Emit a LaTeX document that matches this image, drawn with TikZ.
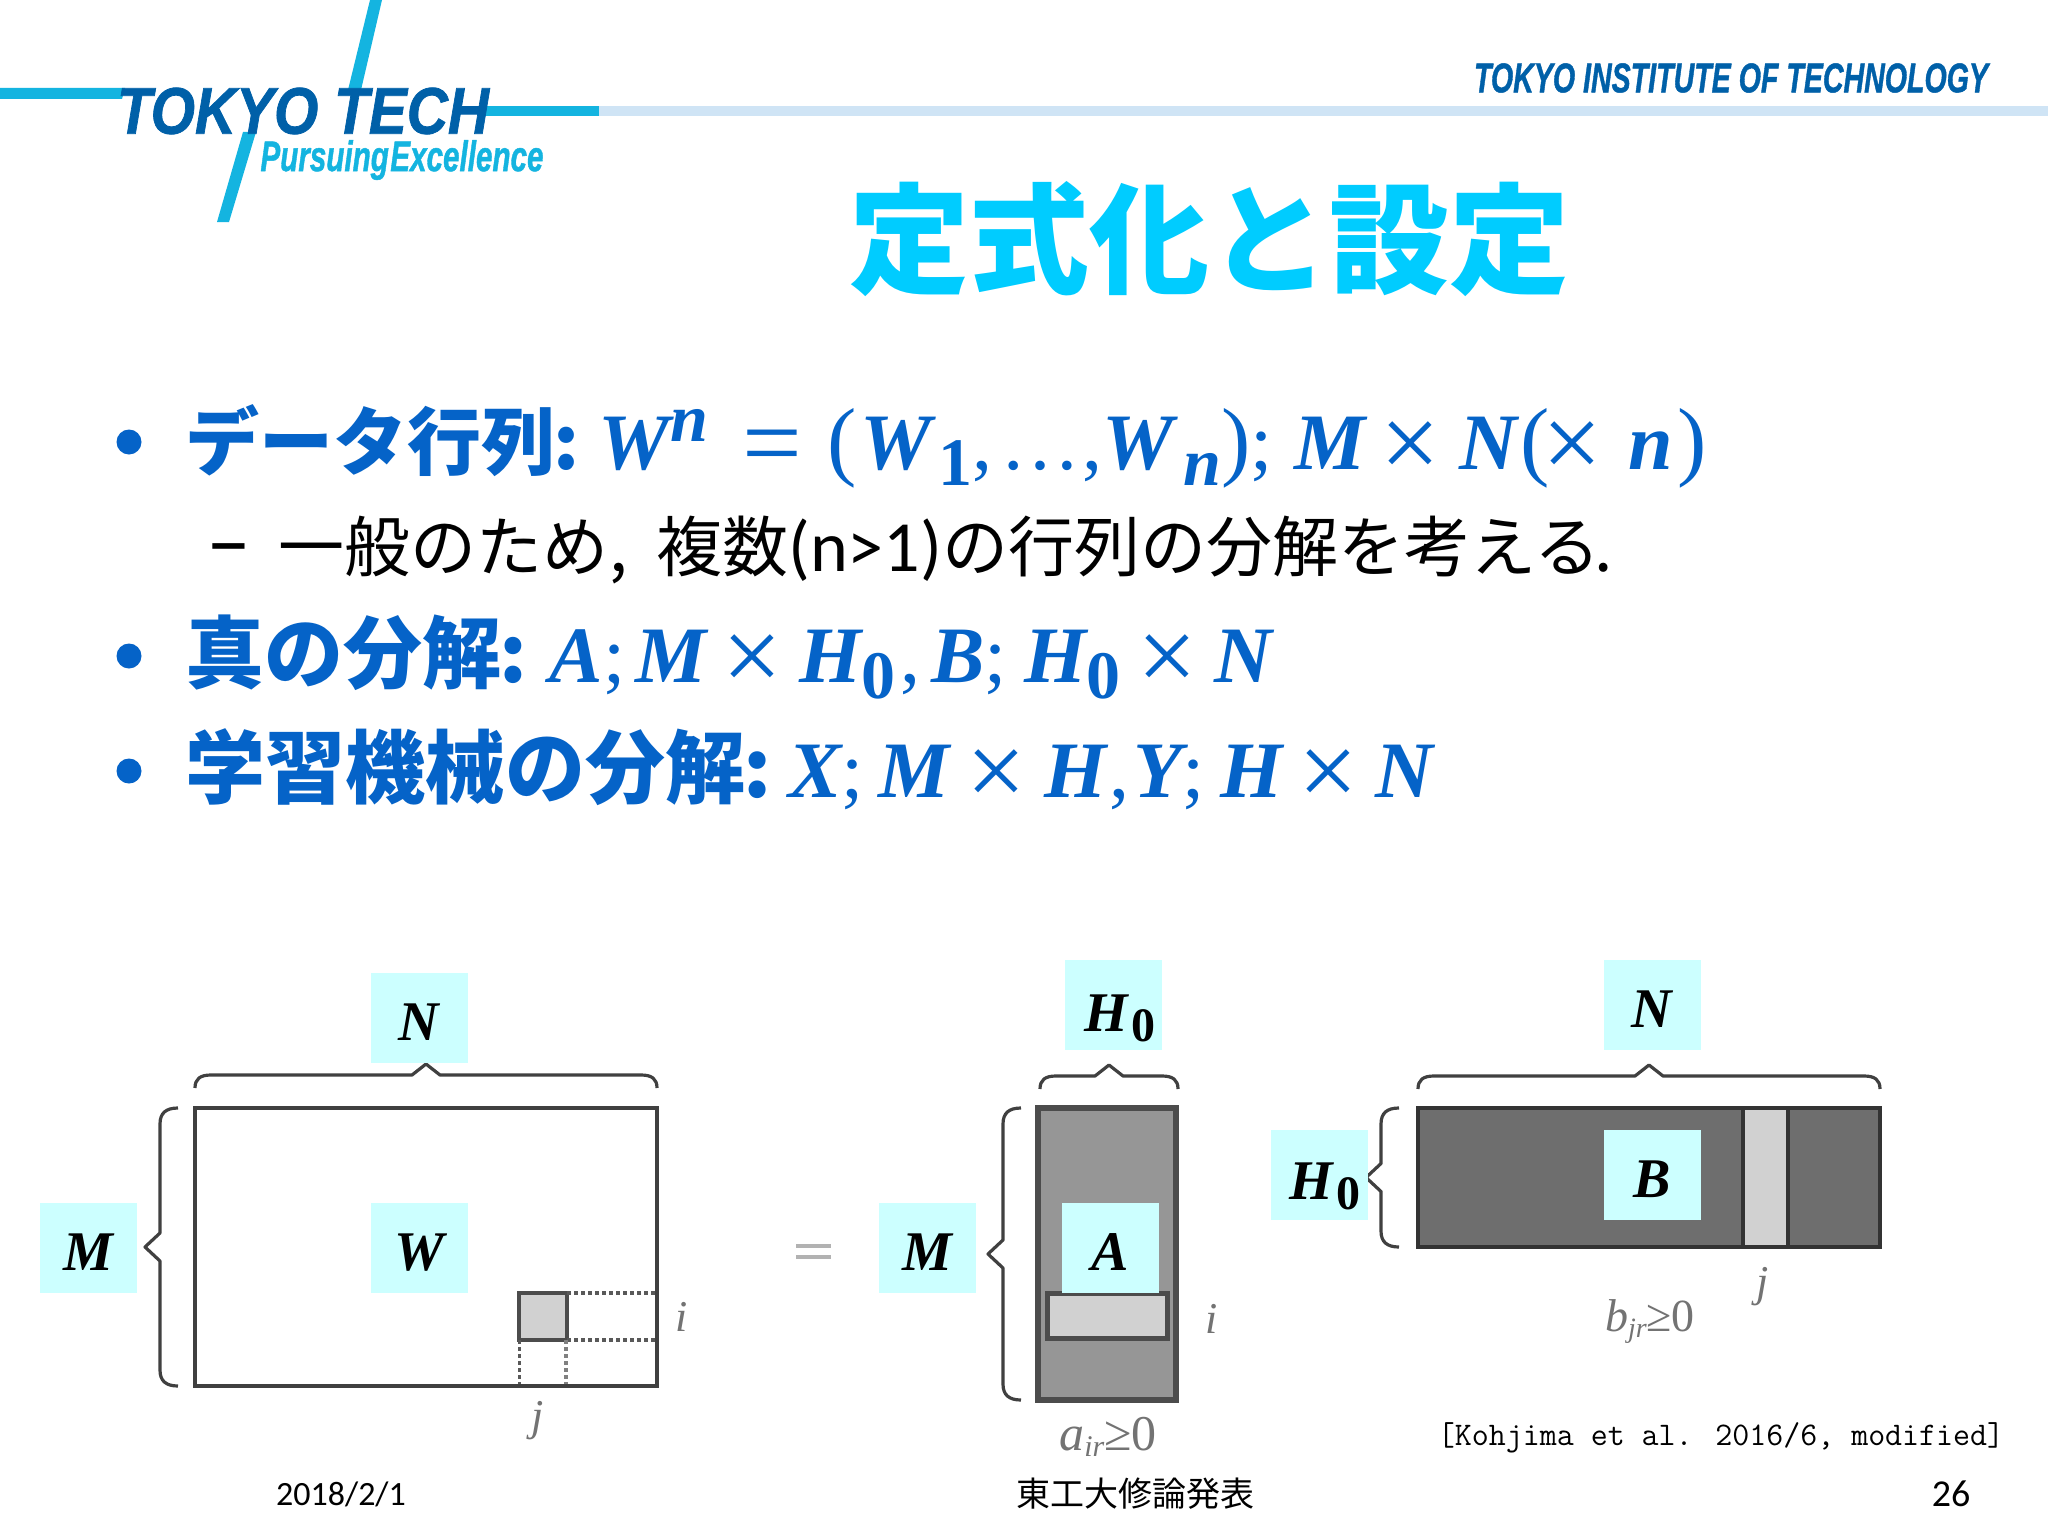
\documentclass[tikz,border=0pt]{standalone}
\usepackage{fontspec}
\usepackage{graphicx}
\setmainfont{Carlito}
\newfontfamily\jp{Noto Sans CJK JP}
\newfontfamily\ser{Liberation Serif}
\newfontfamily\hel{Liberation Sans}[BoldItalicFeatures={FakeBold=1.2}]
\newfontfamily\lmm{Latin Modern Mono}
\definecolor{logoc}{HTML}{14B4E0}
\definecolor{logod}{HTML}{0060A8}
\definecolor{barc}{HTML}{CFE4F5}
\definecolor{titlec}{HTML}{00CCFF}
\definecolor{bodyb}{HTML}{0563C8}
\definecolor{labc}{HTML}{CCFFFF}
\newcommand\fs[1]{\fontsize{#1}{#1}\selectfont}
\newcommand\mi[1]{{\ser\bfseries\itshape\fs{80}#1}}
\newcommand\mr[1]{{\ser\mdseries\upshape\fs{80}#1}}
\newcommand\pr[1]{{\ser\mdseries\upshape\fs{88}#1}}
\newcommand\op[1]{\raisebox{-9pt}{\ser\mdseries\upshape\fs{106}#1}}
\newcommand\dni[1]{\raisebox{-16pt}{\ser\bfseries\itshape\fs{68}#1}}
\newcommand\dnb[1]{\raisebox{-16pt}{\ser\bfseries\upshape\fs{68}#1}}
\newcommand\upi[1]{\raisebox{28pt}{\ser\bfseries\itshape\fs{68}#1}}
\newcommand\hbr[3]{\draw[bracel] (#1,#3+13) .. controls (#1,#3+4) and (#1+5,#3) .. (#1+16,#3) -- ({(#1+#2)/2-14},#3) -- ({(#1+#2)/2},#3-11) -- ({(#1+#2)/2+14},#3) -- (#2-16,#3) .. controls (#2-5,#3) and (#2,#3+4) .. (#2,#3+13);}
\newcommand\vbr[3]{\draw[bracel] (#1+18,#2) .. controls (#1+6,#2) and (#1,#2+5) .. (#1,#2+16) -- (#1,{(#2+#3)/2-14}) -- (#1-15,{(#2+#3)/2}) -- (#1,{(#2+#3)/2+14}) -- (#1,#3-16) .. controls (#1,#3-5) and (#1+6,#3) .. (#1+18,#3);}
\begin{document}
\begin{tikzpicture}[x=1pt,y=-1pt,
  txt/.style={anchor=base west,inner sep=0pt,outer sep=0pt},
  ctr/.style={anchor=center,inner sep=0pt,outer sep=0pt},
  lab/.style={fill=labc,inner sep=0pt,outer sep=0pt,minimum width=97pt,minimum height=90pt,text height=45pt,text depth=0pt,font=\ser\bfseries\itshape\fs{56},text=black},
  bracel/.style={draw=black!75,line width=3.2pt,line join=round,line cap=butt},
  bul/.style={fill=bodyb,draw=none},
  faint/.style={text=black!55,font=\ser\itshape\fs{44}},
  foot/.style={ctr,font=\fs{34},text=black}]
\useasboundingbox (0,0) rectangle (2048,1536);
\fill[white] (0,0) rectangle (2048,1536);

% logo and header bar
\fill[barc] (599,106) rectangle (2048,116);
\fill[logoc] (0,88) -- (125,88) -- (122,99) -- (0,99) -- cycle;
\fill[logoc] (480,106) rectangle (599,116);
\fill[logoc] (370,0) -- (382,0) -- (361,90) -- (348,90) -- cycle;
\fill[logoc] (243,132) -- (256,132) -- (229,222) -- (217,222) -- cycle;
\node[ctr,text=logod] (tokyotech) at (303,111) {\resizebox{372pt}{46pt}{\hel\bfseries\itshape TOKYO TECH}};
\node[ctr,text=logoc] (pursuing) at (402,160) {\resizebox{283pt}{31pt}{\hel\bfseries\itshape Pursuing\kern0.05em Excellence}};
\node[ctr,text=logod] (institute) at (1731,78) {\resizebox{514pt}{29pt}{\hel\bfseries\itshape TOKYO INSTITUTE OF TECHNOLOGY}};

% title
\node[txt,text=titlec,font=\jp\bfseries\fs{120}] (title) at (849,284) {定式化と設定};

% bullets
\fill[bul] (129,442) circle (12.5);
\fill[bul] (129,656) circle (12.5);
\fill[bul] (129,771) circle (12.5);

\node[txt,text=bodyb] (line1) at (185,469) {\jp\bfseries\fs{74}データ行列\kern-2pt:\kern20pt\mi{W}\upi{n}\kern35pt\op{=}\kern25pt\pr{(}\kern3pt\mi{W}\kern7pt\dnb{1}\mr{,}\kern8pt\mr{…}\kern2pt\mr{,}\mi{W}\kern10pt\dni{n}\pr{)}\mr{;}\kern22pt\mi{M}\kern15pt\op{×}\kern19pt\mi{N}\kern3pt\pr{(}\kern-7pt\op{×}\kern26pt\mi{n}\kern5pt\pr{)}};

\node[txt] (dash) at (206,571) {\fs{90}–};
\node[txt] (line2) at (278,571) {\jp\fs{66}一般のため\kern2pt,\kern28pt 複数{\rmfamily\fontspec{Carlito}\fs{72}(n>1)}の行列の分解を考える\kern-6pt.};

\node[txt,text=bodyb] (line3) at (185,682) {\jp\bfseries\fs{79}真の分解\kern-2pt:\kern23pt\mi{A}\mr{;}\kern10pt\mi{M}\kern16pt\op{×}\kern17pt\mi{H}\dnb{0}\kern5pt\mr{,}\kern11pt\mi{B}\mr{;}\kern17pt\mi{H}\dnb{0}\kern17pt\op{×}\kern17pt\mi{N}};

\node[txt,text=bodyb] (line4) at (185,797) {\jp\bfseries\fs{80}学習機械の分解\kern-2pt:\kern17pt\mi{X}\mr{;}\kern15pt\mi{M}\kern17pt\op{×}\kern18pt\mi{H}\kern3pt\mr{,}\kern4pt\mi{Y}\mr{;}\kern16pt\mi{H}\kern15pt\op{×}\kern18pt\mi{N}};

% matrix W
\draw[draw=black!75,line width=4.5pt,fill=white] (195,1108) rectangle (657,1386);
\fill[black!18] (519,1293) rectangle (567,1340);
\draw[black!70,line width=4.5pt] (519,1293) rectangle (567,1340);
\draw[black!65,line width=4pt,dash pattern=on 4pt off 3pt] (567,1293) -- (655,1293);
\draw[black!65,line width=4pt,dash pattern=on 4pt off 3pt] (567,1340) -- (655,1340);
\draw[black!65,line width=3pt,dash pattern=on 4pt off 3pt] (519,1340) -- (519,1384);
\draw[black!50,line width=4pt,dash pattern=on 4pt off 3pt] (566,1340) -- (566,1384);
\hbr{195}{657}{1075}
\vbr{160}{1108}{1386}

% matrix A
\draw[draw=black!70,line width=6pt,fill=black!41] (1038,1108) rectangle (1176,1400);
\draw[draw=black!70,line width=5pt,fill=black!18] (1047,1293) rectangle (1167,1338);
\hbr{1040}{1178}{1076}
\vbr{1003}{1108}{1400}

% matrix B
\draw[draw=black!80,line width=4pt,fill=black!57] (1418,1108) rectangle (1880,1247);
\fill[black!18] (1744,1110) rectangle (1787,1245);
\draw[black!80,line width=3.5pt] (1743,1108) -- (1743,1247);
\draw[black!80,line width=3.5pt] (1788,1108) -- (1788,1247);
\hbr{1418}{1880}{1076}
\vbr{1381}{1108}{1247}

% labels
\node[lab] (Ntop) at (419,1018) {N};
\node[lab] (Wlab) at (419,1248) {W};
\node[lab] (Mleft) at (88,1248) {M};
\node[lab] (Mmid) at (927,1248) {M};
\node[lab] (Alab) at (1110,1248) {A};
\node[lab,text height=52pt] (Hone) at (1113,1005) {\kern14pt H\kern3pt\raisebox{-10pt}{\ser\bfseries\upshape\fs{48}0}};
\node[lab] (Nright) at (1652,1005) {N};
\node[lab] (Blab) at (1652,1175) {B};
\node[lab,text height=48pt] (Htwo) at (1319,1175) {\kern12pt H\kern3pt\raisebox{-10pt}{\ser\bfseries\upshape\fs{48}0}};

% equals
\draw[black!30,line width=3.5pt] (796,1246) -- (831,1246);
\draw[black!30,line width=3.5pt] (796,1257) -- (831,1257);

% faint small labels
\node[ctr,faint] (iW) at (682,1317) {i};
\node[ctr,faint] (jW) at (538,1421) {j};
\node[ctr,faint] (iA) at (1212,1319) {i};
\node[ctr,faint] (jB) at (1763,1287) {j};
\node[ctr,faint,font=\ser\itshape\fs{50}] (aeq) at (1108,1437) {a\raisebox{-6pt}{\fs{30}ir}{\upshape ≥0}};
\node[ctr,faint,font=\ser\itshape\fs{46}] (beq) at (1650,1322) {b\raisebox{-6pt}{\fs{28}jr}{\upshape ≥0}};

% citation and footer
\node[ctr,text=black] (cite) at (1721,1438) {\lmm\fs{33}[Kohjima et al. 2016/6, modified]};
\node[foot] (date) at (341,1494) {2018/2/1};
\node[foot,font=\jp\fs{34}] (venue) at (1135,1494) {東工大修論発表};
\node[foot,font=\fs{38}] (page) at (1951,1494) {26};
\end{tikzpicture}
\end{document}
